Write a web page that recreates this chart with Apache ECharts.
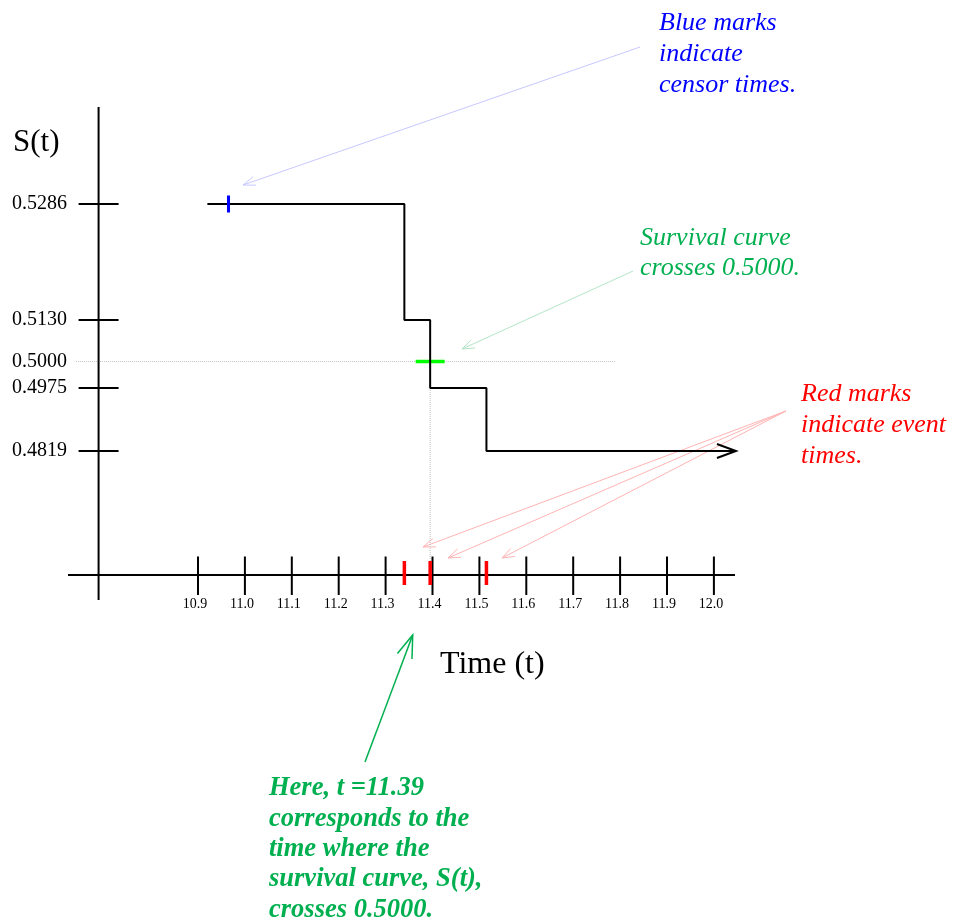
<!DOCTYPE html>
<html><head><meta charset="utf-8">
<script src="https://cdn.jsdelivr.net/npm/echarts@6/dist/echarts.min.js"></script>
<style>html,body{margin:0;padding:0;background:#fff}#c{width:954px;height:924px}</style>
</head><body><div id="c"></div>
<script>
// ---------------- data ----------------
const curveStart = 10.92;            // first time shown on the curve
const curveEnd = 12.047;             // curve continues (arrow)
const eventTimes = [11.34, 11.395, 11.515];   // red marks (steps)
const survival = [0.5286, 0.5130, 0.4975, 0.4819]; // S(t) levels
const censorTimes = [10.965];        // blue marks
const medianTime = 11.395;
const medianS = 0.5000;
const xTicks = [10.9, 11.0, 11.1, 11.2, 11.3, 11.4, 11.5, 11.6, 11.7, 11.8, 11.9, 12.0];
const yTicks = [0.5286, 0.5130, 0.5000, 0.4975, 0.4819];
const yTickLabels = ['0.5286', '0.5130', '0.5000', '0.4975', '0.4819'];
const yTickMarks = [0.5286, 0.5130, 0.4975, 0.4819]; // solid tick marks (0.5000 has the dotted line)
const refLineRange = [10.64, 11.79];  // dotted line at S = 0.5000

// ---------------- schematic (non-linear) y scale ----------------
const yLevelVals = [0.4819, 0.4975, 0.5000, 0.5130, 0.5286];
const yLevelPos = [124, 187, 213.5, 255, 371];
function ys(v) {
  const n = yLevelVals.length;
  let i = 0;
  if (v <= yLevelVals[0]) i = 0;
  else if (v >= yLevelVals[n - 1]) i = n - 2;
  else { while (v > yLevelVals[i + 1]) i++; }
  const f = (v - yLevelVals[i]) / (yLevelVals[i + 1] - yLevelVals[i]);
  return yLevelPos[i] + f * (yLevelPos[i + 1] - yLevelPos[i]);
}

const FONT = '"Liberation Serif", "Times New Roman", serif';
const xMin = 10.6228, xMax = 12.0514, yMin = -25, yMax = 468;
const yAxisT = 10.688;

const chart = echarts.init(document.getElementById('c'), null, {renderer: 'canvas'});

// step curve points
const curveData = [[curveStart, ys(survival[0])]];
eventTimes.forEach((t, i) => curveData.push([t, ys(survival[i + 1])]));
curveData.push([curveEnd, ys(survival[survival.length - 1])]);

function arrowEls(x1, y1, x2, y2, color, w, head, ang) {
  const a = Math.atan2(y1 - y2, x1 - x2);
  const p1 = [x2 + head * Math.cos(a + ang), y2 + head * Math.sin(a + ang)];
  const p2 = [x2 + head * Math.cos(a - ang), y2 + head * Math.sin(a - ang)];
  return [
    {type: 'line', silent: true, shape: {x1, y1, x2, y2}, style: {stroke: color, lineWidth: w}},
    {type: 'polyline', silent: true, shape: {points: [p1, [x2, y2], p2]}, style: {stroke: color, lineWidth: w, fill: null}}
  ];
}

function txt(x, y, text, opts) {
  return {type: 'text', x, y, silent: true, style: Object.assign({
    text, fontFamily: FONT, fill: '#000', verticalAlign: 'top', align: 'left'
  }, opts)};
}

const graphics = [].concat(
  [txt(13, 142.8, 'S(t)', {fontSize: 31, verticalAlign: 'middle'})],
  [txt(440, 664.4, 'Time (t)', {fontSize: 32, verticalAlign: 'middle'})],
  [txt(659, 7.5, 'Blue marks\nindicate\ncensor times.', {fontSize: 26, fontStyle: 'italic', fill: '#0000ff', lineHeight: 31})],
  [txt(640, 223, 'Survival curve\ncrosses 0.5000.', {fontSize: 26, fontStyle: 'italic', fill: '#00b050', lineHeight: 30})],
  [txt(801, 379, 'Red marks\nindicate event\ntimes.', {fontSize: 26, fontStyle: 'italic', fill: '#ff0000', lineHeight: 31})],
  [txt(269, 773.5, 'Here, t =11.39\ncorresponds to the\ntime where the\nsurvival curve, S(t),\ncrosses 0.5000.', {fontSize: 26.5, fontStyle: 'italic', fontWeight: 'bold', fill: '#00b050', lineHeight: 30.3})],
  arrowEls(640, 47, 243, 185, '#c8c8ff', 1, 13, 0.35),
  arrowEls(633, 271, 462, 349, '#b4e6c8', 1, 13, 0.35),
  arrowEls(786, 411, 423, 547, '#ffb4b4', 1, 13, 0.35),
  arrowEls(786, 411, 448, 558, '#ffb4b4', 1, 13, 0.35),
  arrowEls(786, 411, 502, 558, '#ffb4b4', 1, 13, 0.35),
  arrowEls(365, 762, 412.7, 635, '#00b050', 1.5, 24, 0.33)
);

const option = {
  backgroundColor: '#fff',
  animation: false,
  grid: {left: 68, top: 107, width: 670, height: 493, containLabel: false},
  xAxis: {
    type: 'value', min: xMin, max: xMax,
    axisLine: {show: false}, axisTick: {show: false}, splitLine: {show: false},
    axisLabel: {
      customValues: xTicks, formatter: v => Number(v).toFixed(1),
      fontSize: 14, fontFamily: FONT, color: '#000', margin: -3, padding: [0, 6, 0, 0]
    }
  },
  yAxis: {
    type: 'value', min: yMin, max: yMax,
    axisLine: {show: false}, axisTick: {show: false}, splitLine: {show: false},
    axisLabel: {
      customValues: yTicks.map(ys),
      formatter: v => {
        let best = 0, bd = 1e9;
        yTicks.forEach((t, i) => { const d = Math.abs(ys(t) - v); if (d < bd) { bd = d; best = i; } });
        return yTickLabels[best];
      },
      fontSize: 20, fontFamily: FONT, color: '#000', margin: 1, padding: [0, 0, 6, 0]
    }
  },
  graphic: graphics,
  series: [
    { // dotted reference lines
      type: 'line', silent: true, symbol: 'none', z: 1,
      data: [[refLineRange[0], ys(medianS)], [refLineRange[1], ys(medianS)]],
      lineStyle: {color: '#c4c4c4', width: 1, type: 'dotted'}
    },
    {
      type: 'line', silent: true, symbol: 'none', z: 1,
      data: [[medianTime, ys(survival[2])], [medianTime, 0]],
      lineStyle: {color: '#c4c4c4', width: 1, type: 'dotted'}
    },
    { // axes with crossing ticks
      type: 'custom', silent: true, z: 2, clip: false,
      data: [[0]],
      renderItem: (params, api) => {
        const ch = [];
        const L = (a, b, w) => ch.push({type: 'line', shape: {x1: a[0], y1: a[1], x2: b[0], y2: b[1]}, style: {stroke: '#000', lineWidth: w}});
        L(api.coord([yAxisT, yMin]), api.coord([yAxisT, yMax]), 2);
        const xl = api.coord([xMin, 0]), xr = api.coord([12.045, 0]);
        L(xl, xr, 2);
        xTicks.forEach(t => { const p = api.coord([t, 0]); L([p[0], p[1] - 18.5], [p[0], p[1] + 20], 2); });
        yTickMarks.forEach(v => { const p = api.coord([yAxisT, ys(v)]); L([p[0] - 20, p[1]], [p[0] + 20, p[1]], 2); });
        return {type: 'group', children: ch};
      }
    },
    { // survival step curve
      type: 'line', silent: true, symbol: 'none', step: 'end', z: 4,
      data: curveData,
      lineStyle: {color: '#000', width: 2}
    },
    { // arrow head at the end of the curve
      type: 'custom', silent: true, z: 4, clip: false,
      data: [curveData[curveData.length - 1]],
      renderItem: (params, api) => {
        const p = api.coord([api.value(0), api.value(1)]);
        return {type: 'polyline', shape: {points: [[p[0] - 19, p[1] - 7], p, [p[0] - 19, p[1] + 7]]},
          style: {stroke: '#000', lineWidth: 2, fill: null}};
      }
    },
    { // censor marks (blue)
      type: 'custom', silent: true, z: 5, clip: false,
      data: censorTimes.map(t => [t, ys(survival[0])]),
      renderItem: (params, api) => {
        const p = api.coord([api.value(0), api.value(1)]);
        return {type: 'line', shape: {x1: p[0], y1: p[1] - 8.5, x2: p[0], y2: p[1] + 8.5}, style: {stroke: '#0000ff', lineWidth: 3}};
      }
    },
    { // event marks (red)
      type: 'custom', silent: true, z: 5, clip: false,
      data: eventTimes.map(t => [t, 0]),
      renderItem: (params, api) => {
        const p = api.coord([api.value(0), api.value(1)]);
        return {type: 'line', shape: {x1: p[0], y1: p[1] - 14, x2: p[0], y2: p[1] + 10}, style: {stroke: '#ff0000', lineWidth: 3.5}};
      }
    },
    { // median crossing mark (green)
      type: 'custom', silent: true, z: 3, clip: false,
      data: [[medianTime, ys(medianS)]],
      renderItem: (params, api) => {
        const p = api.coord([api.value(0), api.value(1)]);
        return {type: 'line', shape: {x1: p[0] - 14.5, y1: p[1], x2: p[0] + 14.5, y2: p[1]}, style: {stroke: '#00ff00', lineWidth: 3.5}};
      }
    }
  ]
};
chart.setOption(option);
</script>
</body></html>
